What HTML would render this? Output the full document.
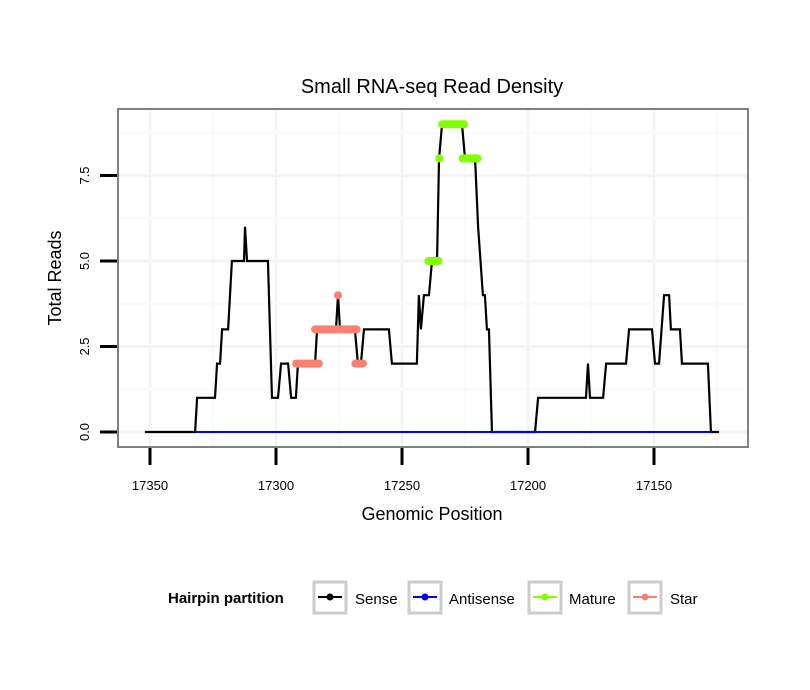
<!DOCTYPE html>
<html><head><meta charset="utf-8"><style>
html,body{margin:0;padding:0;background:#fff}
svg{display:block;font-family:"Liberation Sans",sans-serif}
</style></head><body>
<svg id="chart" width="810" height="690">
<text x="432" y="93" font-size="20" text-anchor="middle">Small RNA-seq Read Density</text>
<g id="grid"></g>
<g id="series"></g>
<rect x="118" y="109" width="630" height="338" fill="none" stroke="#808080" stroke-width="2"/>
<g id="axes"></g>
<text x="432" y="520" font-size="18" text-anchor="middle">Genomic Position</text>
<text transform="translate(61,278) rotate(-90)" font-size="18" text-anchor="middle">Total Reads</text>
<g>
<text x="168" y="603" font-size="15" font-weight="bold">Hairpin partition</text>
<g><rect x="314" y="582" width="32" height="31" fill="#fff" stroke="#ccc" stroke-width="3"/><line x1="318" y1="597" x2="342" y2="597" stroke="#000" stroke-width="2"/><circle cx="330" cy="597" r="3.5" fill="#000"/><text x="355" y="604" font-size="15">Sense</text></g>
<g><rect x="409" y="582" width="32" height="31" fill="#fff" stroke="#ccc" stroke-width="3"/><line x1="413" y1="597" x2="437" y2="597" stroke="#00f" stroke-width="2"/><circle cx="425" cy="597" r="3.5" fill="#00f"/><text x="449" y="604" font-size="15">Antisense</text></g>
<g><rect x="529" y="582" width="32" height="31" fill="#fff" stroke="#ccc" stroke-width="3"/><line x1="533" y1="597" x2="557" y2="597" stroke="#7fff00" stroke-width="2"/><circle cx="545" cy="597" r="3.5" fill="#7fff00"/><text x="569" y="604" font-size="15">Mature</text></g>
<g><rect x="629" y="582" width="32" height="31" fill="#fff" stroke="#ccc" stroke-width="3"/><line x1="633" y1="597" x2="657" y2="597" stroke="#fa8072" stroke-width="2"/><circle cx="645" cy="597" r="3.5" fill="#fa8072"/><text x="670" y="604" font-size="15">Star</text></g>
</g>
</svg>
<script>
const xTicks=[17350,17300,17250,17200,17150];
const yTicks=[0,2.5,5,7.5];
const yTickLabels=["0.0","2.5","5.0","7.5"];
const sensePos=[17352,17332.1,17331.3,17324.2,17323.4,17322.2,17321.4,17319,17317.5,17312.7,17312.3,17311.5,17303.2,17301.6,17299.2,17298,17295.2,17294,17292.1,17291.3,17284.5,17283.7,17276.2,17275.4,17274.6,17268.7,17267.5,17266.3,17265.1,17255.2,17254,17244.1,17243.3,17242.5,17241.3,17239.3,17238.1,17236.1,17235.3,17234.1,17226.2,17225,17221,17219.8,17217.9,17217.1,17216.3,17215.5,17214.3,17197.2,17196,17177,17176.2,17175.4,17170.2,17169,17161.1,17159.9,17150.8,17149.6,17148,17146,17144,17143.3,17139.7,17138.9,17128.6,17127.4,17124.2];
const senseVal=[0,0,1,1,2,2,3,3,5,5,6,5,5,1,1,2,2,1,1,2,2,3,3,4,3,3,2,2,3,3,2,2,4,3,4,4,5,5,8,9,9,8,8,6,4,4,3,3,0,0,1,1,2,1,1,2,2,3,3,2,2,4,4,3,3,2,2,0,0];
const antiPos=[17332,17127];
const antiVal=[0,0];
const matureStart=[17239.5,17235.2,17234.1,17226];
const matureEnd=[17235.5,17235.2,17225.4,17220];
const matureVal=[5,8,9,8];
const starStart=[17292,17284.5,17275.4,17268.5];
const starEnd=[17283,17268,17275.4,17265.5];
const starVal=[2,3,4,2];

const X=p=>150+(17350-p)*2.52;
const Y=v=>432-v*34.2;
const NS="http://www.w3.org/2000/svg";
function mk(tag,parent,attrs){const e=document.createElementNS(NS,tag);for(const k in attrs)e.setAttribute(k,attrs[k]);parent.appendChild(e);return e;}
const grid=document.getElementById('grid'),axes=document.getElementById('axes'),series=document.getElementById('series');
for(let i=0;i<xTicks.length;i++){
  const g=mk('line',grid,{x1:X(xTicks[i]),x2:X(xTicks[i]),y1:110,y2:446,stroke:'#f4f4f4','stroke-width':3});
  
  
  const m=mk('line',grid,{x1:X(xTicks[i]-25),x2:X(xTicks[i]-25),y1:110,y2:446,stroke:'#f9f9f9','stroke-width':2});
  
  
  const t=mk('line',axes,{x1:X(xTicks[i]),x2:X(xTicks[i]),y1:448,y2:465,stroke:'#000','stroke-width':3});
  
  
  const l=mk('text',axes,{x:X(xTicks[i]),y:490,'font-size':13,'text-anchor':'middle'});l.textContent=xTicks[i];
  
  
}
for(let i=0;i<yTicks.length;i++){
  const g=mk('line',grid,{x1:119,x2:747,y1:Y(yTicks[i]),y2:Y(yTicks[i]),stroke:'#f4f4f4','stroke-width':3});
  
  
  const m=mk('line',grid,{x1:119,x2:747,y1:Y(yTicks[i]+1.25),y2:Y(yTicks[i]+1.25),stroke:'#f9f9f9','stroke-width':2});
  
  
  const t=mk('line',axes,{x1:100,x2:117,y1:Y(yTicks[i]),y2:Y(yTicks[i]),stroke:'#000','stroke-width':3});
  
  
  const l=mk('text',axes,{transform:`translate(89,${Y(yTicks[i])}) rotate(-90)`,'font-size':13,'text-anchor':'middle'});l.textContent=yTickLabels[i];
  
  
}
const sp=mk('polyline',series,{points:sensePos.map((p,i)=>X(p)+','+Y(senseVal[i])).join(' '),fill:'none',stroke:'#000','stroke-width':2.2,'stroke-linejoin':'miter'});


const ap=mk('polyline',series,{points:antiPos.map((p,i)=>X(p)+','+Y(antiVal[i])).join(' '),fill:'none',stroke:'#00f','stroke-width':2});


function seg(starts,ends,vals,color,name){
  for(let i=0;i<starts.length;i++){
    const l=mk('line',series,{x1:X(starts[i]),x2:X(ends[i]),y1:Y(vals[i]),y2:Y(vals[i]),stroke:color,'stroke-width':8,'stroke-linecap':'round'});
    
    
  }
}
seg(starStart,starEnd,starVal,'#fa8072','star-segment');
seg(matureStart,matureEnd,matureVal,'#7fff00','mature-segment');
</script>
</body></html>
